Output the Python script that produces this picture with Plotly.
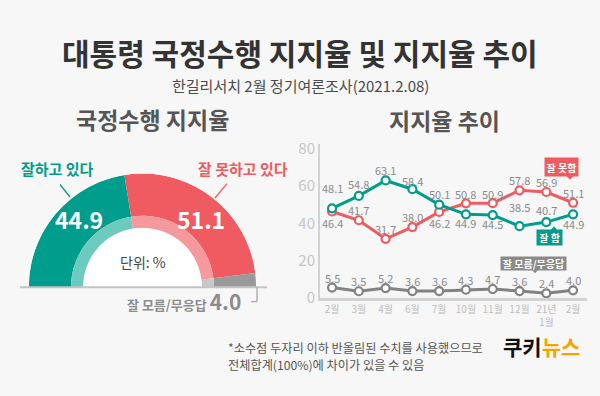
import plotly.graph_objects as go

# ---------------- data ----------------
months = ['2월', '3월', '4월', '6월', '7월', '10월', '11월', '12월', '21년<br>1월', '2월']
approve = [48.1, 54.8, 63.1, 58.4, 50.1, 44.9, 44.5, 38.5, 40.7, 44.9]
disapprove = [46.4, 41.7, 31.7, 38.0, 46.2, 50.8, 50.9, 57.8, 56.9, 51.1]
unknown = [5.5, 3.5, 5.2, 3.6, 3.6, 4.3, 4.7, 3.6, 2.4, 4.0]
y_ticks = [0, 20, 40, 60, 80]

gauge_labels = ['잘하고 있다', '잘 못하고 있다', '잘 모름/무응답']
gauge_values = [44.9, 51.1, 4.0]

# ---------------- style ----------------
W, H = 600, 396
BG = '#f7f7f7'
FONT = 'Noto Sans CJK KR'
TEAL, RED, GRAY = '#009d8d', '#ef5b61', '#828282'
G_MAIN = ['#009d8d', '#ef5b61', '#9a9a9a']
G_LIGHT = ['#6ccabf', '#f5999c', '#c8c8c8']

# label offsets (px) for data labels: positive = above
shift_approve = [20, 12, 10, 8, 11, -9, -9, 19, 12, -10]
shift_disapprove = [-11, 10, 10, 10, -11, 9, 9, 10, 10, 10]
shift_unknown = [10] * 10


def px(x):
    return x / W


def py(y):
    return 1 - y / H


fig = go.Figure()

# ---------------- gauge (barpolar) ----------------
total = sum(gauge_values)
spans = [v / total * 180 for v in gauge_values]
starts = [sum(spans[:i]) for i in range(len(spans))]
centers = [s + w / 2 for s, w in zip(starts, spans)]

R_OUT, R_MID, R_IN = 118.5, 74.5, 62.0

fig.add_trace(go.Barpolar(
    r=[R_IN], base=[0], theta=[90], width=[180],
    marker=dict(color='#ffffff', line=dict(width=0)),
    hoverinfo='skip', showlegend=False, subplot='polar'))
fig.add_trace(go.Barpolar(
    r=[R_OUT - R_MID] * 3, base=[R_MID] * 3, theta=centers, width=spans,
    marker=dict(color=G_MAIN, line=dict(width=0)),
    hoverinfo='skip', showlegend=False, subplot='polar'))
fig.add_trace(go.Barpolar(
    r=[R_MID - R_IN] * 3, base=[R_IN] * 3, theta=centers, width=spans,
    marker=dict(color=G_LIGHT, line=dict(width=0)),
    hoverinfo='skip', showlegend=False, subplot='polar'))

# ---------------- line chart ----------------
xs = list(range(len(months)))
for vals, col in [(unknown, GRAY), (disapprove, RED), (approve, TEAL)]:
    fig.add_trace(go.Scatter(
        x=xs, y=vals, mode='lines+markers',
        line=dict(color=col, width=3),
        marker=dict(size=8, color='white', line=dict(color=col, width=2.2)),
        cliponaxis=False, hoverinfo='skip', showlegend=False))

annotations = []
for vals, shifts in [(approve, shift_approve), (disapprove, shift_disapprove), (unknown, shift_unknown)]:
    for i, (v, s) in enumerate(zip(vals, shifts)):
        annotations.append(dict(
            x=i, y=v, xref='x', yref='y', text=f'{v:.1f}', showarrow=False,
            yshift=s, font=dict(family=FONT, size=11, color='#8a8a8a')))

# ---------------- texts ----------------
def txt(x, y, text, size, color, xanchor='center', bold=False, **kw):
    t = f'<b>{text}</b>' if bold else text
    d = dict(x=px(x), y=py(y), xref='paper', yref='paper', text=t, showarrow=False,
             xanchor=xanchor, yanchor='middle',
             font=dict(family=FONT, size=size, color=color))
    d.update(kw)
    annotations.append(d)


txt(300, 47, '대통령 국정수행 지지율 및 지지율 추이', 30, '#333333', bold=True)
txt(300, 82, '한길리서치 2월 정기여론조사(2021.2.08)', 15, '#4a4a4a')
txt(152, 117, '국정수행 지지율', 23, '#555555', bold=True)
txt(444, 118, '지지율 추이', 23, '#555555', bold=True)

txt(57, 168, gauge_labels[0], 15, TEAL, bold=True)
txt(243, 168, gauge_labels[1], 15, RED, bold=True)
txt(79, 221, f'{gauge_values[0]:.1f}', 23, 'white', bold=True)
txt(201, 221, f'{gauge_values[1]:.1f}', 23, 'white', bold=True)
txt(143, 266, '단위: %', 14, '#444444')
annotations.append(dict(
    x=px(243), y=py(306), xref='paper', yref='paper', showarrow=False,
    xanchor='right', yanchor='middle',
    text=f"<b>{gauge_labels[2]} <span style='font-size:21px'>{gauge_values[2]:.1f}</span></b>",
    font=dict(family=FONT, size=13, color='#8c8c8c')))

txt(226, 355, '*소수점 두자리 이하 반올림된 수치를 사용했으므로', 12.2, '#555555', xanchor='left')
txt(226, 373, '전체합계(100%)에 차이가 있을 수 있음', 12.2, '#555555', xanchor='left')
annotations.append(dict(
    x=px(541), y=py(353), xref='paper', yref='paper', showarrow=False,
    xanchor='center', yanchor='middle',
    text="<b>쿠키<span style='color:#f5a300'>뉴스</span></b>",
    font=dict(family=FONT, size=21, color='#111111')))

# legend boxes on line chart
def box(cx, cy, text, color, w, h):
    annotations.append(dict(
        x=px(cx), y=py(cy), xref='paper', yref='paper', showarrow=False,
        xanchor='center', yanchor='middle', text=f'<b>{text}</b>',
        bgcolor=color, borderpad=0, width=w, height=h,
        font=dict(family=FONT, size=10, color='white')))


box(561, 167, '잘 못함', RED, 33, 18)
box(549, 240.5, '잘 함', TEAL, 25, 15)
box(533, 267, '잘 모름/무응답', '#8a8a8a', 65, 13)

shapes = []


def tri(x, y0, y1, color):
    shapes.append(dict(
        type='path', xref='paper', yref='paper', line=dict(width=0), fillcolor=color,
        path=f'M {px(x-4)} {py(y0)} L {px(x+4)} {py(y0)} L {px(x)} {py(y1)} Z'))


tri(570, 175.5, 180, RED)
tri(554, 233.5, 228.5, TEAL)
tri(535, 273, 277.5, '#8a8a8a')


def seg(x0, y0, x1, y1, color, w):
    shapes.append(dict(type='line', xref='paper', yref='paper',
                       x0=px(x0), y0=py(y0), x1=px(x1), y1=py(y1),
                       line=dict(color=color, width=w)))


seg(20, 292, 267, 292, '#c4c4c4', 2)
seg(257, 292, 257, 307, '#a8a8a8', 1.3)
seg(257, 307, 251, 307, '#a8a8a8', 1.3)
seg(60, 185, 70, 198, TEAL, 1.3)
seg(227, 184, 215, 199, RED, 1.3)

# ---------------- layout ----------------
fig.update_layout(
    width=W, height=H, autosize=False,
    margin=dict(l=0, r=0, t=0, b=0),
    paper_bgcolor=BG, plot_bgcolor=BG,
    font=dict(family=FONT),
    showlegend=False,
    annotations=annotations,
    shapes=shapes,
    polar=dict(
        domain=dict(x=[px(142.5 - R_OUT), px(142.5 + R_OUT)], y=[py(292), py(292 - R_OUT)]),
        sector=[0, 180], hole=0, bgcolor='rgba(0,0,0,0)', bargap=0,
        radialaxis=dict(visible=False, range=[0, R_OUT], showgrid=False, showline=False,
                        showticklabels=False, ticks=''),
        angularaxis=dict(visible=False, rotation=180, direction='clockwise', showgrid=False,
                         showline=False, showticklabels=False, ticks=''),
    ),
    xaxis=dict(
        domain=[px(320), px(587)], range=[-0.45, 9.52],
        tickvals=xs, ticktext=months, showgrid=False, zeroline=False,
        showline=True, linecolor='#d2d2d2', linewidth=3, ticks='',
        tickfont=dict(family=FONT, size=10, color='#bdbdbd'), fixedrange=True,
    ),
    yaxis=dict(
        domain=[py(303), py(143)], range=[0, 82.6],
        tickvals=y_ticks, showgrid=False, zeroline=False,
        showline=True, linecolor='#d2d2d2', linewidth=2, ticks='',
        tickfont=dict(family=FONT, size=15, color='#c6c6c6'), fixedrange=True,
    ),
)

fig.write_html(
    'out.html',
    config={'displayModeBar': False},
    post_script="document.body.style.margin='0';document.body.style.background='%s';" % BG,
)
